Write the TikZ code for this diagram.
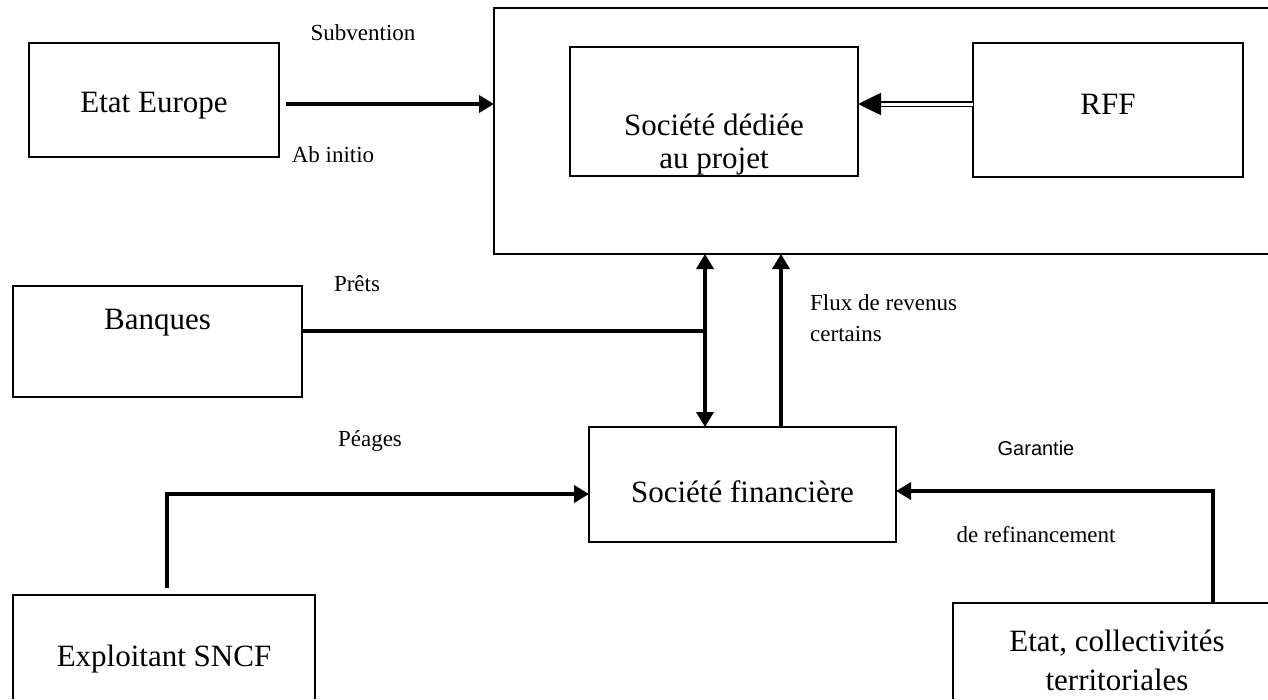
\documentclass[tikz,border=0pt]{standalone}
\usepackage{fontspec}
\setmainfont{Liberation Serif}
\newfontfamily\arialf{Liberation Sans}
\usetikzlibrary{arrows.meta}
\begin{document}
\begin{tikzpicture}[x=1pt,y=-1pt,
  box/.style={draw, line width=2.6pt, inner sep=0pt, outer sep=0pt},
  ghost/.style={inner sep=0pt, outer sep=0pt},
  big/.style={font=\fontsize{31}{37}\selectfont, align=center, inner sep=0pt},
  small/.style={font=\fontsize{23}{31}\selectfont, align=left, inner sep=0pt},
  conn/.style={line width=3.6pt},
  tip/.style={-{Triangle[length=15pt,width=17pt]}},
  edge/.style={line width=2pt}
]
\useasboundingbox (0,0) rectangle (1268,699);
\coordinate (R) at (1268,0);
\coordinate (B) at (0,699);
\coordinate (vA) at (705,0);
\coordinate (vB) at (781,0);
\coordinate (pA) at (167,0);
\coordinate (gA) at (1213,0);

% outer project box (open on the right)
\node[ghost, minimum width=800, minimum height=246] (proj) at (894,131) {};
\draw[edge] (proj.north west -| R) -- (proj.north west) -- (proj.south west) -- (proj.south west -| R);

% boxes
\node[box, minimum width=250, minimum height=114] (ee) at (154,100) {};
\node[big] (eet) at (154,106) {Etat Europe};

\node[box, minimum width=288, minimum height=129] (sd) at (714,111.5) {};
\node[big, font=\fontsize{31}{33}\selectfont] (sdt) at (714,145) {Société dédiée\\au projet};

\node[box, minimum width=270, minimum height=134] (rff) at (1108,110) {};
\node[big] (rfft) at (1108,104) {RFF};

\node[box, minimum width=289, minimum height=111] (bq) at (157.5,341.5) {};
\node[big] (bqt) at (157.5,323) {Banques};

\node[box, minimum width=307, minimum height=115] (sf) at (742.5,484.5) {};
\node[big] (sft) at (742.5,492) {Société financière};

\node[ghost, minimum width=302, minimum height=110] (ex) at (164,650) {};
\draw[line width=2.6pt] (ex.west |- B) -- (ex.north west) -- (ex.north east) -- (ex.east |- B);
\node[big] (ext) at (164,659) {Exploitant SNCF};

\node[ghost, minimum width=328, minimum height=114] (ec) at (1117,660) {};
\draw[line width=2.6pt] (ec.west |- B) -- (ec.north west) -- (ec.north west -| R);
\node[big, font=\fontsize{31}{39}\selectfont] (ect) at (1117,660) {Etat, collectivités\\territoriales};

% connectors
\draw[conn, tip, shorten <=7pt] ([yshift=-4pt]ee.east) -- ([yshift=-4pt]ee.east -| proj.west);
\draw[line width=1.7pt, double, double distance=3pt, -{Triangle[length=23pt,width=22pt]}]
  ([yshift=6pt]rff.west) -- ([yshift=6pt]rff.west -| sd.east);
\draw[conn] ([yshift=10.5pt]bq.east) -- ([yshift=10.5pt]bq.east -| vA);
\draw[conn, {Triangle[length=15pt,width=17pt]}-{Triangle[length=15pt,width=17pt]}] (vA |- proj.south) -- (vA |- sf.north);
\draw[conn, tip] (vB |- sf.north) -- (vB |- proj.south);
\draw[conn, tip, shorten <=7pt] (pA |- ex.north) |- ([yshift=-9.5pt]sf.west);
\draw[conn, tip] (gA |- ec.north) |- ([yshift=-6.5pt]sf.east);

% labels
\node[small] (l1) at (363,33) {Subvention};
\node[small] (l2) at (333,155) {Ab initio};
\node[small] (l3) at (357,284) {Prêts};
\node[small, anchor=west] (l4) at (810,318) {Flux de revenus\\certains};
\node[small] (l5) at (370,441) {Péages};
\node[font=\arialf\fontsize{20}{24}\selectfont, inner sep=0pt] (l6) at (1036,448) {Garantie};
\node[small] (l7) at (1036,535) {de refinancement};
\end{tikzpicture}
\end{document}
